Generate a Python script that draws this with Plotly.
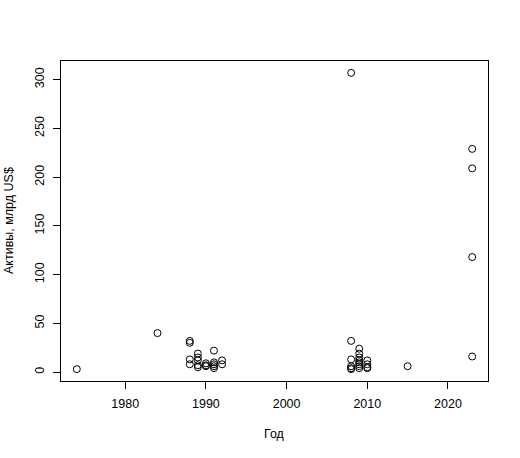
import plotly.graph_objects as go

years = [1974, 1984,
         1988, 1988, 1988, 1988,
         1989, 1989, 1989, 1989, 1989,
         1990, 1990, 1990,
         1991, 1991, 1991, 1991, 1991,
         1992, 1992,
         2008, 2008, 2008, 2008, 2008, 2008,
         2009, 2009, 2009, 2009, 2009, 2009, 2009, 2009,
         2010, 2010, 2010, 2010,
         2015,
         2023, 2023, 2023, 2023]
assets = [3, 40,
          32, 30, 13, 8,
          19, 15, 12, 7, 5,
          9, 7, 6,
          22, 10, 8, 6, 4,
          12, 8,
          307, 32, 13, 6, 4, 3,
          24, 19, 15, 12, 10, 8, 6, 4,
          12, 8, 5, 4,
          6,
          229, 209, 118, 16]

x_ticks = [1980, 1990, 2000, 2010, 2020]
y_ticks = [0, 50, 100, 150, 200, 250, 300]

x_title = "Год"
y_title = "Активы, млрд US$"

fig = go.Figure()
fig.add_trace(go.Scatter(
    x=years, y=assets, mode="markers",
    marker=dict(symbol="circle-open", size=7, color="black",
                line=dict(width=1, color="black")),
    showlegend=False,
))

xmin, xmax = min(years), max(years)
ymin, ymax = min(assets), max(assets)
xpad = (xmax - xmin) * 0.04
ypad = (ymax - ymin) * 0.04

font = dict(family="Liberation Sans, Arial, Helvetica, sans-serif", size=12.5, color="black")

fig.update_layout(
    width=520, height=458,
    margin=dict(l=61, r=32, t=61, b=77, autoexpand=False),
    paper_bgcolor="white", plot_bgcolor="white",
    font=font,
    xaxis=dict(
        range=[xmin - xpad, xmax + xpad],
        tickvals=x_ticks, ticktext=[str(v) for v in x_ticks],
        ticks="outside", ticklen=7, tickwidth=1, tickcolor="black",
        showline=True, linecolor="black", linewidth=1, mirror=True,
        showgrid=False, zeroline=False, automargin=False,
        ticklabelstandoff=4,
    ),
    yaxis=dict(
        range=[ymin - ypad, ymax + ypad],
        tickvals=y_ticks, ticktext=[str(v) for v in y_ticks],
        tickangle=-90,
        ticks="outside", ticklen=7, tickwidth=1, tickcolor="black",
        showline=True, linecolor="black", linewidth=1, mirror=True,
        showgrid=False, zeroline=False, automargin=False,
        ticklabelstandoff=4,
    ),
    annotations=[
        dict(text=x_title, xref="paper", yref="paper", x=0.5, y=0,
             xanchor="center", yanchor="middle", yshift=-53,
             showarrow=False, font=font),
        dict(text=y_title, xref="paper", yref="paper", x=0, y=0.5,
             xanchor="center", yanchor="middle", xshift=-52, textangle=-90,
             showarrow=False, font=font),
    ],
)

fig.write_html("out.html",
               config={"displayModeBar": False},
               post_script="document.body.style.margin='0px';document.body.style.padding='0px';")
